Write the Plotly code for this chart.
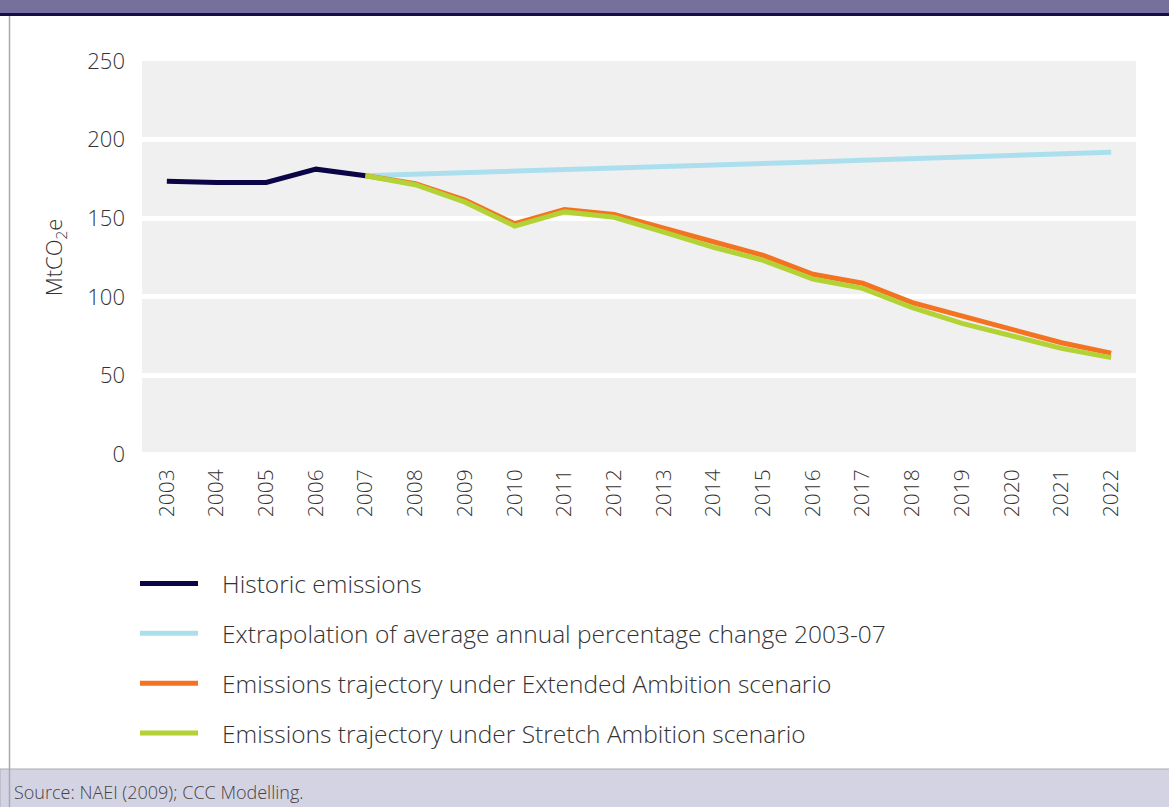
import plotly.graph_objects as go

years = [str(y) for y in range(2003, 2023)]

historic_years = ["2003", "2004", "2005", "2006", "2007"]
historic = [173.5, 172.7, 172.7, 181.2, 177.0]

proj_years = [str(y) for y in range(2007, 2023)]
extrapolation = [177.0, 177.9, 178.8, 179.8, 180.8, 181.8, 182.8, 183.8,
                 184.8, 185.8, 186.9, 188.0, 189.1, 190.1, 191.1, 192.0]
extended = [177.0, 172.0, 161.5, 146.5, 155.5, 152.3, 143.6, 134.7,
            126.4, 114.3, 108.6, 96.3, 88.0, 79.7, 70.8, 64.2]
stretch = [177.0, 171.3, 160.2, 145.0, 154.0, 150.6, 141.2, 131.5,
           123.2, 111.3, 105.4, 93.1, 83.1, 75.1, 67.2, 61.3]

FONT = "Open Sans"
TXT = "#333333"
PAD = "\u00a0\u00a0\u00a0"  # gap between legend swatch and label

W, H = 1169, 807
L, R, T, B = 142, 1136, 61, 454


def px(x):
    return (x - L) / (R - L)


def py(y):
    return (B - y) / (B - T)


fig = go.Figure()

fig.add_trace(go.Scatter(
    x=historic_years, y=historic, mode="lines", name=PAD + "Historic emissions",
    line=dict(color="#0b0548", width=5), legendgroup="a",
))
fig.add_trace(go.Scatter(
    x=proj_years, y=extrapolation, mode="lines",
    name=PAD + "Extrapolation of average annual percentage change 2003-07",
    line=dict(color="#acdfee", width=5), legendgroup="b",
))
fig.add_trace(go.Scatter(
    x=proj_years, y=extended, mode="lines",
    name=PAD + "Emissions trajectory under Extended Ambition scenario",
    line=dict(color="#f47321", width=5), legendgroup="c",
))
fig.add_trace(go.Scatter(
    x=proj_years, y=stretch, mode="lines",
    name=PAD + "Emissions trajectory under Stretch Ambition scenario",
    line=dict(color="#b2d235", width=5), legendgroup="d",
))

# frame: header band, left rule, footer band
shapes = [
    dict(type="rect", xref="paper", yref="paper", x0=px(0), x1=px(W), y0=py(0), y1=py(13),
         fillcolor="#76709c", line_width=0, layer="below"),
    dict(type="rect", xref="paper", yref="paper", x0=px(0), x1=px(W), y0=py(13), y1=py(16),
         fillcolor="#150d4a", line_width=0, layer="below"),
    dict(type="rect", xref="paper", yref="paper", x0=px(0), x1=px(W + 2), y0=py(769), y1=py(H + 2),
         fillcolor="#d4d3e3", line=dict(color="#a9a9b5", width=1), layer="below"),
    dict(type="line", xref="paper", yref="paper", x0=px(9.5), x1=px(9.5), y0=py(16), y1=py(H),
         line=dict(color="#a9a9b5", width=1.5), layer="below"),
]

fig.update_layout(
    width=W, height=H,
    margin=dict(l=L, r=W - R, t=T, b=H - B, autoexpand=False),
    paper_bgcolor="white",
    plot_bgcolor="#f0f0f0",
    font=dict(family=FONT, size=22, color=TXT, weight=300),
    shapes=shapes,
    showlegend=True,
    legend=dict(
        x=px(135), y=py(561), xanchor="left", yanchor="top",
        traceorder="grouped", tracegroupgap=15, itemwidth=58,
        font=dict(family=FONT, size=24.5, color=TXT, weight=300),
        bgcolor="rgba(0,0,0,0)",
    ),
    annotations=[dict(
        text="Source: NAEI (2009); CCC Modelling.", xref="paper", yref="paper",
        x=px(12), y=py(792), xanchor="left", yanchor="middle", showarrow=False,
        font=dict(family=FONT, size=18, color="#444444", weight=300),
    )],
)

fig.update_xaxes(
    type="category", categoryorder="array", categoryarray=years,
    tickvals=years, range=[-0.5, 19.5],
    showgrid=False, zeroline=False, showline=False,
    tickangle=-90, ticks="", ticklabelstandoff=10,
    tickfont=dict(family=FONT, size=21, color=TXT, weight=300),
)
fig.update_yaxes(
    range=[0, 250], tickvals=[0, 50, 100, 150, 200, 250],
    showgrid=True, gridcolor="white", gridwidth=5,
    zeroline=True, zerolinecolor="white", zerolinewidth=5,
    showline=False, ticks="", ticklabelstandoff=16,
    tickfont=dict(family=FONT, size=22, color=TXT, weight=300),
    title=dict(text="MtCO<sub>2</sub>e", standoff=18,
               font=dict(family=FONT, size=22, color=TXT, weight=300)),
)

# page has a default body margin; drop it so the chart sits at the corner
fig.write_html("out.html", config={"displayModeBar": False},
               post_script="document.body.style.margin='0';")
